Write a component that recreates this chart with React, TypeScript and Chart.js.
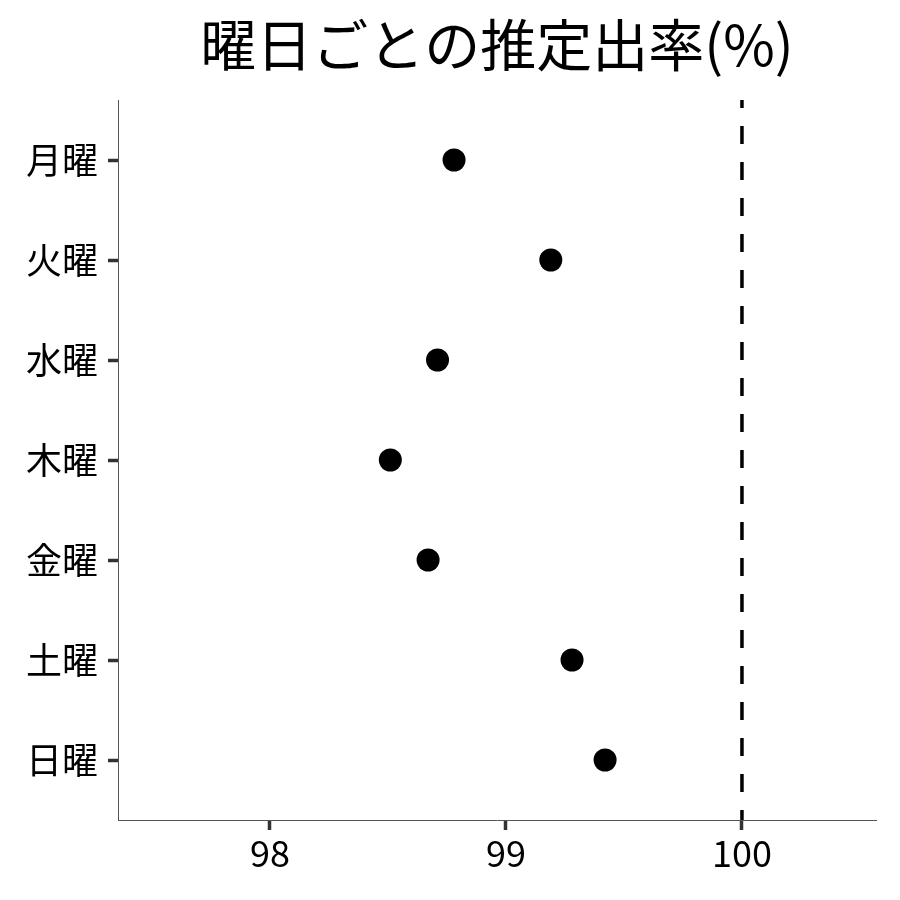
import React, { useEffect, useRef } from "react";
import { Chart, registerables } from "chart.js";

Chart.register(...registerables);

const days = ["月曜", "火曜", "水曜", "木曜", "金曜", "土曜", "日曜"];
const rates = [98.78, 99.19, 98.71, 98.51, 98.67, 99.28, 99.42];
const xTicks = [98, 99, 100];
const refLine = 100;
const titleText = "曜日ごとの推定出率(%)";

const FONT = "'Noto Sans CJK JP', 'Noto Sans', sans-serif";

const titlePlugin = {
  id: "centeredTitle",
  afterDraw(chart: any) {
    const { ctx, chartArea } = chart;
    ctx.save();
    ctx.fillStyle = "#000";
    ctx.font = `56px ${FONT}`;
    ctx.textAlign = "center";
    ctx.textBaseline = "middle";
    ctx.fillText(titleText, (chartArea.left + chartArea.right) / 2, 45);
    ctx.restore();
  },
};

export default function App() {
  const ref = useRef<HTMLCanvasElement | null>(null);
  useEffect(() => {
    if (!ref.current) return;
    const points = rates.map((v, i) => ({ x: v, y: i }));
    const chart = new Chart(ref.current, {
      type: "scatter",
      data: {
        datasets: [
          {
            data: [
              { x: refLine, y: -0.6 },
              { x: refLine, y: days.length - 0.4 },
            ],
            type: "line",
            borderColor: "#000",
            borderWidth: 3.5,
            borderDash: [18, 18],
            borderDashOffset: 10,
            pointRadius: 0,
            fill: false,
          } as any,
          {
            data: points,
            backgroundColor: "#000",
            borderColor: "#000",
            pointRadius: 11.5,
            pointHoverRadius: 11.5,
            borderWidth: 0,
          },
        ],
      },
      options: {
        animation: false,
        responsive: false,
        layout: { padding: { left: 0, right: 24, top: 100, bottom: 0 } },
        plugins: {
          legend: { display: false },
          tooltip: { enabled: false },
          title: { display: false },
        },
        scales: {
          x: {
            type: "linear",
            min: 97.356,
            max: 100.568,
            afterBuildTicks: (s: any) => {
              s.ticks = xTicks.map((v) => ({ value: v }));
            },
            afterFit: (s: any) => {
              s.height = 80;
            },
            ticks: {
              color: "#000",
              font: { family: FONT, size: 36 },
              padding: 2,
              callback: (v: any) => String(v),
            },
            grid: {
              drawOnChartArea: false,
              drawTicks: true,
              tickLength: 10,
              tickWidth: 3.5,
              tickColor: "#333",
            },
            border: { display: true, color: "#555", width: 1 },
          },
          y: {
            type: "linear",
            reverse: true,
            min: -0.6,
            max: days.length - 0.4,
            afterBuildTicks: (s: any) => {
              s.ticks = days.map((_, i) => ({ value: i }));
            },
            afterFit: (s: any) => {
              s.width = 118;
            },
            ticks: {
              color: "#000",
              font: { family: FONT, size: 36 },
              padding: 10,
              callback: (v: any) => days[v] ?? "",
            },
            grid: {
              drawOnChartArea: false,
              drawTicks: true,
              tickLength: 10,
              tickWidth: 3.5,
              tickColor: "#333",
            },
            border: { display: true, color: "#555", width: 1 },
          },
        },
      },
      plugins: [titlePlugin],
    });
    return () => chart.destroy();
  }, []);
  return (
    <div style={{ position: "absolute", left: 0, top: 0, width: 900, height: 900, background: "#fff" }}>
      <canvas ref={ref} width={900} height={900} style={{ width: 900, height: 900 }} />
    </div>
  );
}
